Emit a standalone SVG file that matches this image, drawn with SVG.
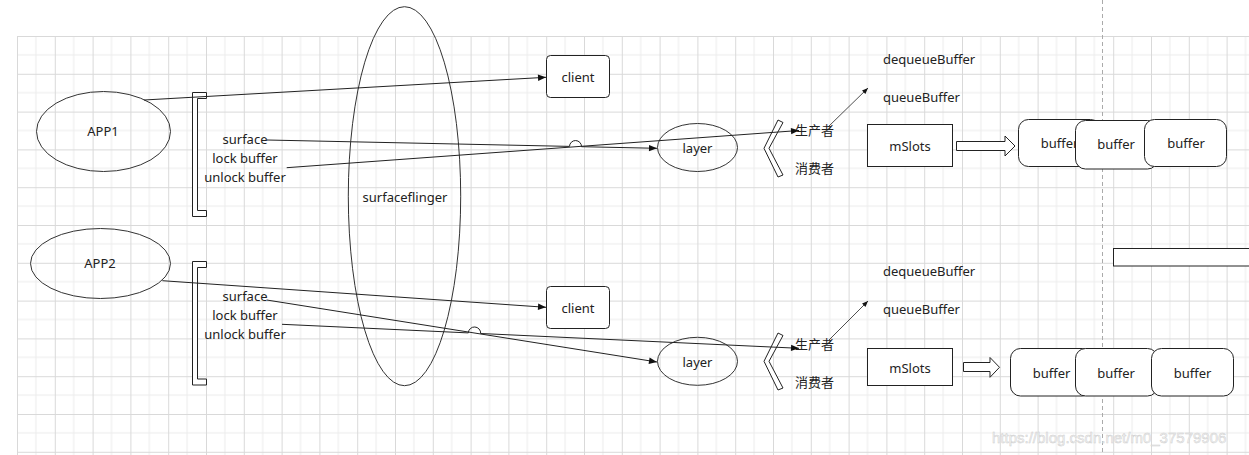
<svg xmlns="http://www.w3.org/2000/svg" width="1249" height="455" viewBox="0 0 1249 455">
<defs>
<pattern id="grid" x="17" y="36" width="37.8" height="37.8" patternUnits="userSpaceOnUse">
<path d="M0,18.9 H37.8 M18.9,0 V37.8" stroke="#ececec" stroke-width="1" fill="none"/>
<path d="M0,0.5 H37.8 M0.5,0 V37.8" stroke="#d9d9d9" stroke-width="1" fill="none"/>
</pattern>
<marker id="ah" viewBox="0 0 10 10" refX="10" refY="5" markerWidth="10" markerHeight="8" markerUnits="userSpaceOnUse" orient="auto"><path d="M0,1 L10,5 L0,9 z" fill="#111"/></marker>
<marker id="ahs" viewBox="0 0 10 10" refX="10" refY="5" markerWidth="7" markerHeight="6" markerUnits="userSpaceOnUse" orient="auto"><path d="M0,1 L10,5 L0,9 z" fill="#111"/></marker>
<style>
text{font-family:"Noto Sans","Noto Sans CJK SC",sans-serif;font-size:13px;fill:#222;dominant-baseline:central}
.c{text-anchor:middle}
.sh{fill:none;stroke:#333;stroke-width:1}
.box{fill:#fff;stroke:#222;stroke-width:1}
.ln{fill:none;stroke:#222;stroke-width:1}
.thin{fill:none;stroke:#222;stroke-width:0.8}
</style>
</defs>
<rect x="0" y="0" width="1249" height="455" fill="#fff"/>
<rect x="17" y="36" width="1232" height="419" fill="url(#grid)"/>
<line x1="1102.5" y1="0" x2="1102.5" y2="455" stroke="#aaa" stroke-width="1" stroke-dasharray="4,3"/>

<g id="app1"><ellipse class="sh" cx="103.5" cy="131.5" rx="67" ry="40"/><text class="c" x="103" y="131">APP1</text></g>
<g id="app2"><ellipse class="sh" cx="100.5" cy="263.5" rx="70" ry="35"/><text class="c" x="100" y="263">APP2</text></g>

<g id="bracket1"><path class="box" d="M192.5,92.5 H206.5 V98.5 H197.5 V210.5 H206.5 V216.5 H192.5 Z"/>
<text class="c" x="245" y="139">surface</text><text class="c" x="245" y="158">lock buffer</text><text class="c" x="245" y="177">unlock buffer</text></g>
<g id="bracket2"><path class="box" d="M192.5,261.5 H206.5 V267.5 H197.5 V379 H206.5 V385 H192.5 Z"/>
<text class="c" x="245" y="296">surface</text><text class="c" x="245" y="315">lock buffer</text><text class="c" x="245" y="333.5">unlock buffer</text></g>

<g id="surfaceflinger"><ellipse class="sh" cx="404.5" cy="196.2" rx="56.2" ry="189.5"/><text class="c" x="405" y="197">surfaceflinger</text></g>

<g id="client1"><rect class="box" x="546.5" y="55.5" width="63" height="42" rx="4"/><text class="c" x="578" y="77">client</text></g>
<g id="client2"><rect class="box" x="546.5" y="286.5" width="63" height="42" rx="4"/><text class="c" x="578" y="308">client</text></g>

<g id="layer1"><ellipse class="sh" cx="697.5" cy="147.5" rx="40" ry="24"/><text class="c" x="697.5" y="148">layer</text></g>
<g id="layer2"><ellipse class="sh" cx="697.5" cy="361.3" rx="40" ry="24"/><text class="c" x="697.5" y="362">layer</text></g>

<g id="chevron1"><polygon class="box" points="778,120 783,122.5 769,148.3 783,175 778,177 764,148.3"/>
<text x="795" y="130">生产者</text><text x="795" y="168">消费者</text></g>
<g id="chevron2"><polygon class="box" points="778,333 783,335.5 769,361.3 783,388 778,390 764,361.3"/>
<text x="795" y="343.5">生产者</text><text x="795" y="381.5">消费者</text></g>

<g id="ops1"><text x="883" y="58.5">dequeueBuffer</text><text x="883" y="96.5">queueBuffer</text></g>
<g id="ops2"><text x="883" y="270.5">dequeueBuffer</text><text x="883" y="308.5">queueBuffer</text></g>

<g id="mslots1"><rect class="box" x="867.5" y="124.5" width="85" height="42"/><text class="c" x="910" y="146">mSlots</text></g>
<g id="mslots2"><rect class="box" x="867.5" y="348.5" width="85" height="37"/><text class="c" x="910" y="367.5">mSlots</text></g>

<g id="bigarrow1"><polygon class="box" points="956.5,141.5 1005,141.5 1005,136 1015,146 1005,156 1005,150.5 956.5,150.5"/></g>
<g id="bigarrow2"><polygon class="box" points="963.5,362.5 990,362.5 990,357.5 999.5,367.3 990,377.3 990,371.5 963.5,371.5"/></g>

<g id="buffers1">
<rect class="box" x="1018.5" y="119.5" width="82" height="47" rx="10"/><text class="c" x="1059.5" y="143">buffer</text>
<rect class="box" x="1075.5" y="120.5" width="82" height="48.5" rx="10"/><text class="c" x="1116" y="144">buffer</text>
<rect class="box" x="1144.5" y="119.5" width="82" height="47" rx="10"/><text class="c" x="1186" y="143">buffer</text>
</g>
<g id="buffers2">
<rect class="box" x="1010.5" y="348.5" width="82" height="47.5" rx="10"/><text class="c" x="1051.5" y="373">buffer</text>
<rect class="box" x="1075.5" y="348.5" width="82" height="47.5" rx="10"/><text class="c" x="1116" y="373">buffer</text>
<rect class="box" x="1151.5" y="348.5" width="82" height="47.5" rx="10"/><text class="c" x="1192.5" y="373">buffer</text>
</g>

<g id="bar"><rect class="box" x="1113.5" y="248.5" width="150" height="17.5"/></g>

<g id="connectors">
<line class="ln" x1="144" y1="100" x2="546" y2="77.3" marker-end="url(#ah)"/>
<path class="ln" d="M267,140 L569.5,146.4 A6,6 0 0 1 581.5,146.7 L657,148.3" marker-end="url(#ah)"/>
<line class="ln" x1="286.7" y1="167.7" x2="799" y2="130.5" marker-end="url(#ah)"/>
<line class="thin" x1="828" y1="127" x2="868" y2="88" marker-end="url(#ahs)"/>
<line class="ln" x1="162.3" y1="280.7" x2="546" y2="307.3" marker-end="url(#ah)"/>
<line class="ln" x1="266.7" y1="300" x2="657" y2="362" marker-end="url(#ah)"/>
<path class="ln" d="M282,324.3 L468.3,332.9 A6.2,6.2 0 0 1 480.7,333.5 L799,348.3" marker-end="url(#ah)"/>
<line class="thin" x1="829" y1="340" x2="868" y2="301" marker-end="url(#ahs)"/>
</g>

<text x="992" y="437" style="font-family:'Liberation Sans',sans-serif;font-size:15px;fill:#f6f6f6;stroke:#cfcfcf;stroke-width:0.5">https://blog.csdn.net/m0_37579906</text>
</svg>
